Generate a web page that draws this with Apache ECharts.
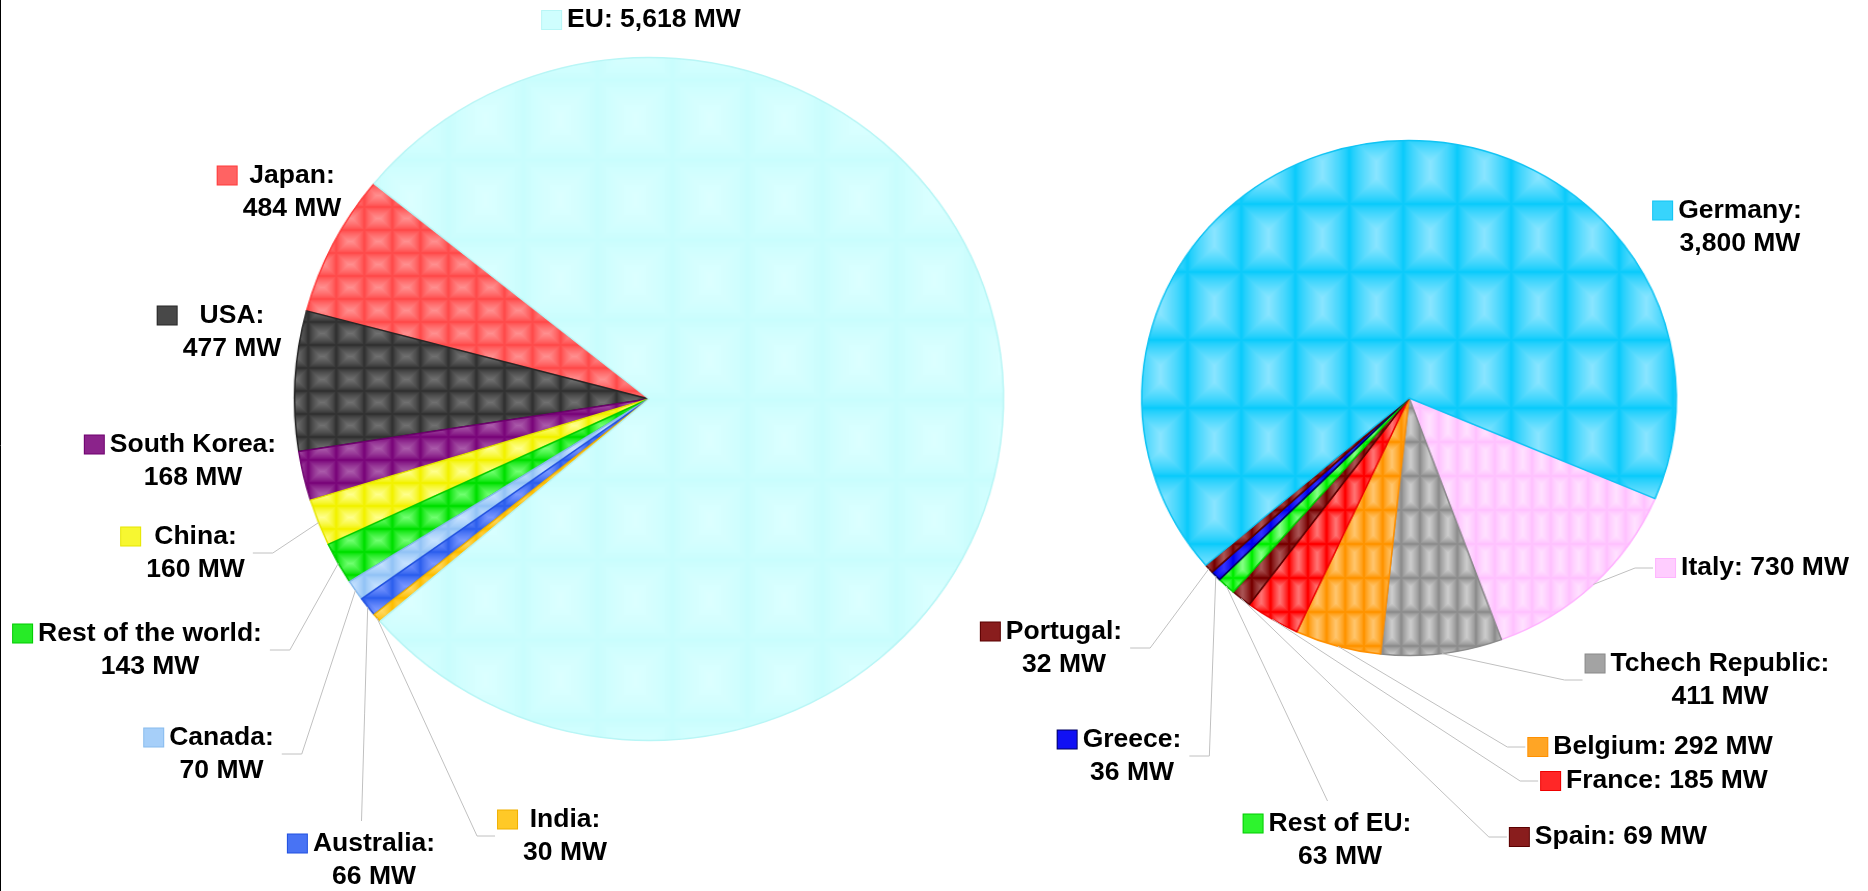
<!DOCTYPE html>
<html>
<head>
<meta charset="utf-8">
<title>PV capacity 2009</title>
<script src="https://cdn.jsdelivr.net/npm/echarts@6/dist/echarts.min.js"></script>
<style>
  html, body { margin: 0; padding: 0; background: #fff; }
  #wrap { position: relative; width: 1868px; height: 891px; overflow: hidden; }
  /* the original pies are slightly wider than tall */
  #pies { position: absolute; left: 0; top: 0; width: 1800px; height: 891px; transform-origin: 0 0; }
  #labels { position: absolute; left: 0; top: 0; width: 1868px; height: 891px; }
</style>
</head>
<body>
<div id="wrap">
  <div id="pies"></div>
  <div id="labels"></div>
</div>
<script>
// ---- data ----
// world pie, counter-clockwise from the Japan / EU boundary
const worldNames = ['Japan', 'USA', 'South Korea', 'China', 'Rest of the world', 'Canada', 'Australia', 'India', 'EU']
const worldValues = [484, 477, 168, 160, 143, 70, 66, 30, 5618]
// EU pie, clockwise from the Germany / Italy boundary
const euNames = ['Italy', 'Tchech Republic', 'Belgium', 'France', 'Spain', 'Rest of EU', 'Greece', 'Portugal', 'Germany']
const euValues = [730, 411, 292, 185, 69, 63, 36, 32, 3800]

// ---- look ----
const FONT_FAMILY = '"Liberation Sans", Arial, sans-serif'
const FONT_SIZE = 26.5
const LINE_H = 33
const KEY_W = 19, KEY_H = 18, KEY_GAP = 6
const LEADER = '#c0c0c0'
const STRETCH = 1.038   // horizontal stretch of both pies

// fill tiles: [edge, centre, border, tileW, tileH]
const worldStyle = [
  ['#ff4b4b', '#ff8f8f', '#ff3b3b', 27, 23],
  ['#323232', '#707070', '#262626', 27, 23],
  ['#7a067a', '#aa5aaa', '#6e006e', 27, 23],
  ['#f2f200', '#ffff8c', '#e6e600', 27, 23],
  ['#00e000', '#70ff70', '#00cc00', 27, 23],
  ['#94c4f6', '#c6e2ff', '#88bbee', 27, 23],
  ['#2e60ee', '#7896ff', '#2050e0', 27, 23],
  ['#ffbf00', '#ffdc70', '#f0b000', 27, 23],
  ['#c9fdfd', '#dbffff', '#b8f6f6', 72, 80]
]
const euStyle = [
  ['#ffc2ff', '#ffe0ff', '#ffb4ff', 18, 34],
  ['#8e8e8e', '#cacaca', '#8a8a8a', 18, 34],
  ['#ff9400', '#ffc46a', '#ff9000', 18, 34],
  ['#ff0000', '#ff7070', '#ee0000', 18, 34],
  ['#780000', '#a85252', '#5a0000', 18, 34],
  ['#00ee00', '#80ff80', '#00cc00', 18, 34],
  ['#0000ee', '#3030ff', '#000060', 18, 34],
  ['#780000', '#a85252', '#5a0000', 18, 34],
  ['#0ccbfb', '#88e5ff', '#10c4f4', 52, 68]
]

// pie geometry on the page (centre x, centre y, vertical radius)
const worldPie = [649, 399, 341.5]
const euPie = [1409, 398, 257.5]

// label placement: text centre x, middle y, leader side, two lines
const worldPlace = [
  [292, 192, 'none', true],
  [232, 332, 'none', true],
  [193, 461, 'none', true],
  [195.5, 553, 'right', true],
  [150, 650, 'right', true],
  [221.5, 754, 'right', true],
  [374, 860, 'top', true],
  [565, 836, 'left', true],
  [654, 20, 'none', false]
]
const euPlace = [
  [1765, 568, 'left', false],
  [1720, 680, 'left', true],
  [1663, 747, 'left', false],
  [1667, 781, 'left', false],
  [1621, 837, 'left', false],
  [1340, 840, 'top', true],
  [1132, 756, 'right', true],
  [1064, 648, 'right', true],
  [1740, 227, 'none', true]
]

const hex = h => [1, 3, 5].map(i => parseInt(h.substr(i, 2), 16))
const mix = (a, b, t) => {
  const x = hex(a), y = hex(b)
  return 'rgb(' + x.map((v, i) => Math.round(v + (y[i] - v) * t)).join(',') + ')'
}

const makeTile = (w, h, edge, mid) => {
  const c = document.createElement('canvas')
  c.width = w
  c.height = h
  const g = c.getContext('2d')
  const n = Math.ceil(Math.min(w, h) / 2)
  for (let i = 0; i < n; i++) {
    g.fillStyle = mix(edge, mid, Math.pow(i / (n - 1), 0.8))
    g.fillRect(i, i, w - 2 * i, h - 2 * i)
  }
  return c
}

const measure = document.createElement('canvas').getContext('2d')
measure.font = 'bold ' + FONT_SIZE + 'px ' + FONT_FAMILY
const textW = s => measure.measureText(s).width
const mw = v => v.toLocaleString('en-US') + ' MW'

const textStyle = {
  fontSize: FONT_SIZE, fontWeight: 'bold', fontFamily: FONT_FAMILY,
  color: '#000', lineHeight: LINE_H
}

// legend key hangs left of the widest line, text lines centred
const buildLabel = (name, value, twoLines, st) => {
  const lines = twoLines ? [name + ':', mw(value)] : [name + ': ' + mw(value)]
  const w = lines.map(textW)
  const wmax = Math.max(...w)
  const s1 = KEY_GAP + (wmax - w[0]) / 2
  let str = '{k| }{a| }{t|' + lines[0] + '}'
  if (twoLines) str += '\n{b| }{t|' + lines[1] + '}'
  return {
    label: {
      formatter: str,
      rich: {
        k: { width: KEY_W, height: KEY_H, lineHeight: LINE_H, backgroundColor: mix(st[0], st[1], 0.35), borderColor: st[2], borderWidth: 1 },
        a: { width: s1, lineHeight: LINE_H },
        b: { width: KEY_W + s1, lineHeight: LINE_H },
        t: textStyle
      }
    },
    shift: (KEY_W + s1) / 2,
    wmax: wmax,
    nLines: lines.length
  }
}

// slices (drawn in the stretched layer)
const sliceData = (names, values, styles) => names.map((n, i) => {
  const st = styles[i]
  return {
    name: n,
    value: values[i],
    itemStyle: {
      color: { image: makeTile(st[3], st[4], st[0], st[1]), repeat: 'repeat' },
      borderColor: st[2],
      borderWidth: 1.5
    }
  }
})

// labels (drawn unstretched on top, slices invisible)
const labelData = (names, values, styles, place) => {
  const info = []
  const data = names.map((n, i) => {
    const lb = buildLabel(n, values[i], place[i][3], styles[i])
    info.push(lb)
    return {
      name: n,
      value: values[i],
      itemStyle: { color: 'rgba(0,0,0,0)', borderWidth: 0 },
      label: lb.label,
      labelLine: { show: place[i][2] !== 'none' }
    }
  })
  return { data, info }
}

const makeLayout = (place, info, pie) => (p) => {
  const P = place[p.dataIndex], I = info[p.dataIndex]
  const y = P[1]
  const left = P[0] - I.wmax / 2 - KEY_GAP - KEY_W
  const right = P[0] + I.wmax / 2
  const top = y - I.nLines * LINE_H / 2
  let a = [P[0], y]
  if (p.labelLinePoints) {
    const q = p.labelLinePoints[0]
    a = [pie[0] + (q[0] - pie[0]) * STRETCH, q[1]]
  }
  let pts
  if (P[2] === 'right') pts = [a, [right + 28, y], [right + 8, y]]
  else if (P[2] === 'left') pts = [a, [left - 21, y], [left - 3, y]]
  else {
    const m = (left + right) / 2
    pts = [a, [(a[0] + m) / 2, (a[1] + top - 6) / 2], [m, top - 6]]
  }
  const out = { x: P[0] - I.shift, y: y, align: 'center', verticalAlign: 'middle' }
  if (P[2] !== 'none') out.labelLinePoints = pts
  return out
}

const worldLabels = labelData(worldNames, worldValues, worldStyle, worldPlace)
const euLabels = labelData(euNames, euValues, euStyle, euPlace)

const pieBase = {
  type: 'pie',
  avoidLabelOverlap: false,
  silent: true,
  emphasis: { disabled: true }
}

// bottom layer: the slices, then stretched horizontally by CSS
const piesEl = document.getElementById('pies')
piesEl.style.transform = 'scaleX(' + STRETCH + ')'
const pieChart = echarts.init(piesEl)
pieChart.setOption({
  backgroundColor: '#fff',
  animation: false,
  series: [
    Object.assign({}, pieBase, {
      name: 'World',
      center: [worldPie[0] / STRETCH, worldPie[1]],
      radius: worldPie[2],
      clockwise: false,
      startAngle: 140.9,
      label: { show: false },
      labelLine: { show: false },
      data: sliceData(worldNames, worldValues, worldStyle)
    }),
    Object.assign({}, pieBase, {
      name: 'EU',
      center: [euPie[0] / STRETCH, euPie[1]],
      radius: euPie[2],
      clockwise: true,
      startAngle: 337,
      label: { show: false },
      labelLine: { show: false },
      data: sliceData(euNames, euValues, euStyle)
    })
  ]
})

// top layer: labels and leader lines
const labelBase = Object.assign({}, pieBase, {
  label: { show: true, position: 'outside', alignTo: 'none', overflow: 'none' },
  labelLine: { show: true, lineStyle: { color: LEADER, width: 1 } }
})
const labelChart = echarts.init(document.getElementById('labels'))
labelChart.setOption({
  animation: false,
  graphic: [{
    type: 'line',
    shape: { x1: 0.5, y1: 0, x2: 0.5, y2: 891 },
    style: { stroke: '#000', lineWidth: 1 }
  }],
  series: [
    Object.assign({}, labelBase, {
      name: 'World',
      center: [worldPie[0], worldPie[1]],
      radius: worldPie[2],
      clockwise: false,
      startAngle: 140.9,
      data: worldLabels.data,
      labelLayout: makeLayout(worldPlace, worldLabels.info, worldPie)
    }),
    Object.assign({}, labelBase, {
      name: 'EU',
      center: [euPie[0], euPie[1]],
      radius: euPie[2],
      clockwise: true,
      startAngle: 337,
      data: euLabels.data,
      labelLayout: makeLayout(euPlace, euLabels.info, euPie)
    })
  ]
})
</script>
</body>
</html>
